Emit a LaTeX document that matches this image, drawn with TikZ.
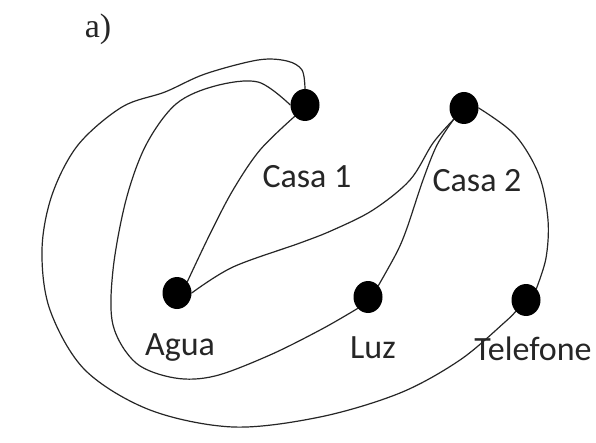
\documentclass[tikz,border=0pt]{standalone}
\usepackage{fontspec}
\usetikzlibrary{shapes.geometric}
\setmainfont{Liberation Serif}
\newfontfamily\labfont{Carlito}
\begin{document}
\begin{tikzpicture}[x=1pt,y=-1pt,
  dot/.style={ellipse, fill=black, minimum width=29pt, minimum height=32pt, inner sep=0pt},
  lab/.style={font=\labfont\fontsize{34}{40}\selectfont, text=black!85, anchor=base, inner sep=0pt},
  wire/.style={draw=black!85, line width=1.2pt, line cap=round, line join=round}]
\useasboundingbox (0,0) rectangle (596,443);
\fill[white] (0,0) rectangle (596,443);
% title
\node[font=\fontsize{34}{40}\selectfont, text=black!85] (title) at (98,29) {a)};
% vertices
\node[dot] (c1) at (305,105) {};
\node[dot] (c2) at (464,108) {};
\node[dot] (ag) at (177,293) {};
\node[dot] (lz) at (368,297) {};
\node[dot] (tf) at (526,300) {};
% labels
\node[lab] (lc1) at (307,188) {Casa 1};
\node[lab] (lc2) at (477,192) {Casa 2};
\node[lab] (lag) at (180,355) {Agua};
\node[lab] (llz) at (373,358) {Luz};
\node[lab] (ltf) at (533,360) {Telefone};
% edges
\draw[wire] plot[smooth, tension=0.55] coordinates {(c1.north) (302,70) (287,61) (258,60) (205,74) (165,92) (122,107) (78,145) (52,195) (42,250) (50,310) (85,370) (150,410) (233,427) (320,417) (400,393) (460,360) (505,322) (tf.south west)};
\draw[wire] plot[smooth, tension=0.55] coordinates {(c1.west) (258,82) (215,86) (176,104) (146,145) (126,200) (113,270) (113,325) (136,363) (175,378) (215,376) (270,355) (322,329) (lz.south west)};
\draw[wire] plot[smooth, tension=0.55] coordinates {(c1.south west) (260,150) (233,190) (210,234) (ag.north east)};
\draw[wire] plot[smooth, tension=0.55] coordinates {(c2.south west) (433,143) (410,180) (373,210) (333,230) (300,243) (233,267) (ag.east)};
\draw[wire] plot[smooth, tension=0.55] coordinates {(c2.south west) (437,145) (423,180) (407,228) (397,252) (lz.north east)};
\draw[wire] plot[smooth, tension=0.55] coordinates {(c2.east) (515,135) (539,175) (548,220) (546,258) (tf.north east)};
\end{tikzpicture}
\end{document}
